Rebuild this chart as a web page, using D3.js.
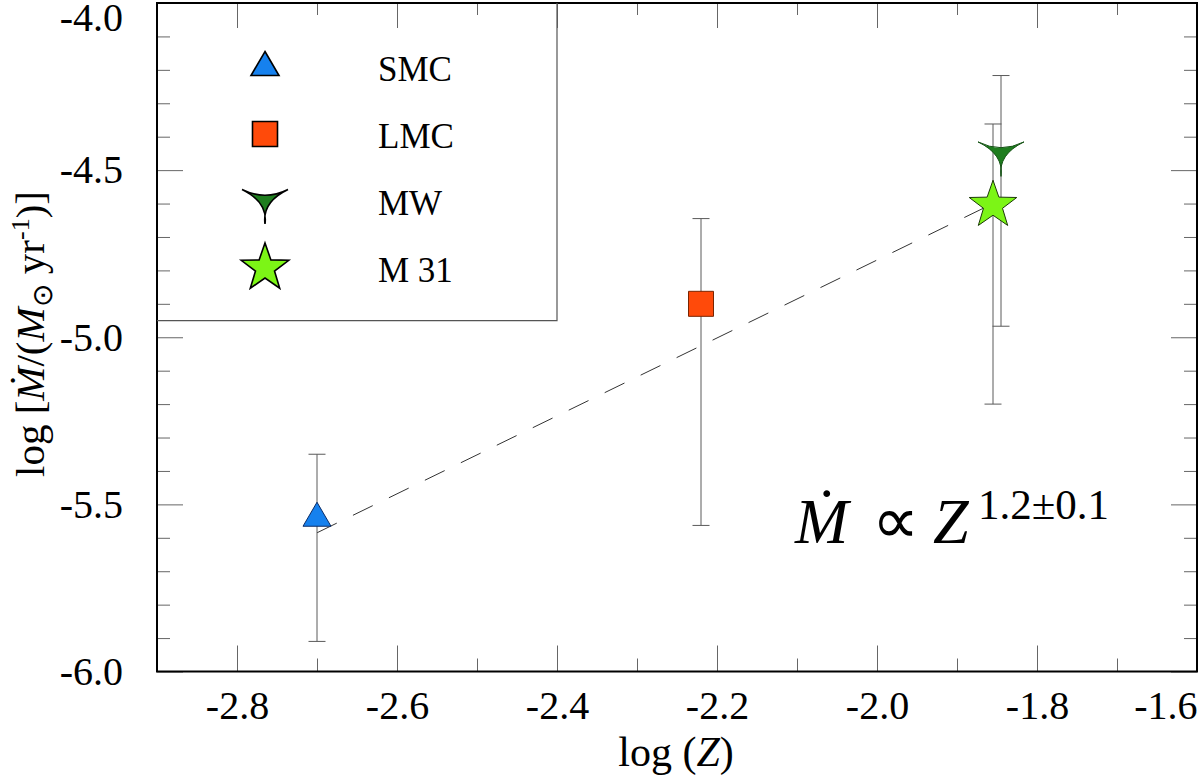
<!DOCTYPE html>
<html>
<head>
<meta charset="utf-8">
<script src="https://cdn.jsdelivr.net/npm/d3@7"></script>
<style>
  body { margin: 0; background: #fff; }
  text { font-family: "Liberation Serif", "Times New Roman", serif; fill: #000; }
</style>
</head>
<body>
<svg id="chart" width="1200" height="779"></svg>
<script>
var width = 1200,
    height = 779;

// galaxies and their mass-loss rates
var galaxies = ["SMC", "LMC", "MW", "M 31"];
var logZ = [-2.70, -2.22, -1.845, -1.855];
var logMdot = [-5.54, -4.90, -4.45, -4.605];
var errUp = [0.19, 0.255, 0.233, 0.243];
var errDown = [0.37, 0.663, 0.517, 0.595];
var fills = ["#1681ee", "#ff4a0a", "#1e7d1e", "#7cf516"];
var strokes = ["#0b2c66", "#7a2400", "#145214", "#1c3a08"];
var shapes = ["triangle", "square", "tri", "star"];

// dashed power-law fit
var fitX = [-2.70, -1.855];
var fitY = [-5.585, -4.60];

// axes
var xDomain = [-2.9, -1.6];
var yDomain = [-6.0, -4.0];
var xMajor = [-2.8, -2.6, -2.4, -2.2, -2.0, -1.8, -1.6];
var xMinor = [-2.9, -2.7, -2.5, -2.3, -2.1, -1.9, -1.7];
var yMajor = [-6.0, -5.5, -5.0, -4.5, -4.0];
var yMinor = [-5.9, -5.8, -5.7, -5.6, -5.4, -5.3, -5.2, -5.1, -4.9, -4.8, -4.7, -4.6, -4.4, -4.3, -4.2, -4.1];

var plotLeft = 157, plotRight = 1197, plotTop = 3, plotBottom = 671.5;
var serif = "Liberation Serif, Times New Roman, serif";

var x = d3.scaleLinear().domain(xDomain).range([plotLeft, plotRight]);
var y = d3.scaleLinear().domain(yDomain).range([plotBottom, plotTop]);

var svg = d3.select("#chart");

function symbolPath(kind) {
    if (kind == "triangle") {
        return "M0,-15.5L14,8.5L-14,8.5Z";
    }
    if (kind == "square") {
        return "M-12.5,-12.5H12.5V12.5H-12.5Z";
    }
    if (kind == "tri") {
        // arrowhead: two wide tips up, one long tip down, concave sides
        return "M-23,-11.5Q0,0 23,-11.5Q-3,1 0,23Q3,1 -23,-11.5Z";
    }
    // five pointed star
    var pts = [];
    for (var k = 0; k < 10; k++) {
        var ang = -Math.PI / 2 + k * Math.PI / 5;
        var rr = k % 2 ? 10 : 25;
        pts.push([rr * Math.cos(ang), rr * Math.sin(ang)]);
    }
    return "M" + pts.map(function (q) { return q.join(","); }).join("L") + "Z";
}

// ticks, all pointing inward
function addAxis(gen, tx, ty) {
    var g = svg.append("g").attr("transform", "translate(" + tx + "," + ty + ")").call(gen);
    g.attr("font-family", serif);
    g.select(".domain").remove();
    g.selectAll(".tick line").attr("stroke", "#666").attr("stroke-width", 1);
    return g;
}
var fmt = d3.format(".1f");
function labelFmt(d) { return fmt(d).replace("\u2212", "-"); }

var xLabels = addAxis(d3.axisBottom(x).tickValues(xMajor).tickSize(-26).tickPadding(17).tickFormat(labelFmt), 0, plotBottom)
    .selectAll("text").attr("font-size", 40).attr("dy", "0.75em");
// last label is pulled inside the frame
xLabels.filter(function (d) { return d == xDomain[1]; }).attr("text-anchor", "end");
addAxis(d3.axisBottom(x).tickValues(xMinor).tickSize(-13).tickFormat(""), 0, plotBottom);
addAxis(d3.axisTop(x).tickValues(xMajor).tickSize(-25).tickFormat(""), 0, plotTop);
addAxis(d3.axisTop(x).tickValues(xMinor).tickSize(-12).tickFormat(""), 0, plotTop);

var yLabels = addAxis(d3.axisLeft(y).tickValues(yMajor).tickSize(-26).tickPadding(34).tickFormat(labelFmt), plotLeft, 0)
    .selectAll("text").attr("font-size", 40);
// top label is pulled inside the picture
yLabels.filter(function (d) { return d == yDomain[1]; }).attr("y", 15);
addAxis(d3.axisLeft(y).tickValues(yMinor).tickSize(-13).tickFormat(""), plotLeft, 0);
addAxis(d3.axisRight(y).tickValues(yMajor).tickSize(-26).tickFormat(""), plotRight, 0);
addAxis(d3.axisRight(y).tickValues(yMinor).tickSize(-13).tickFormat(""), plotRight, 0);

// frame
svg.append("rect")
    .attr("x", plotLeft).attr("y", plotTop)
    .attr("width", plotRight - plotLeft).attr("height", plotBottom - plotTop)
    .attr("fill", "none").attr("stroke", "#000").attr("stroke-width", 2);

// legend box
var legendRight = x(-2.4), legendBottom = y(-4.95);
svg.append("path")
    .attr("d", "M" + plotLeft + "," + legendBottom + "H" + legendRight + "V" + plotTop)
    .attr("fill", "none").attr("stroke", "#555").attr("stroke-width", 1.2);

var legend = svg.append("g");
galaxies.forEach(function (name, i) {
    var cy = 67 + i * 67;
    legend.append("path")
        .attr("d", symbolPath(shapes[i]))
        .attr("transform", "translate(265," + cy + ")")
        .attr("fill", fills[i])
        .attr("stroke", "#000").attr("stroke-width", 1.6);
    legend.append("text")
        .attr("x", 378).attr("y", cy + 14)
        .attr("font-size", 35)
        .text(name);
});

// fit line
svg.append("path")
    .datum(d3.zip(fitX, fitY))
    .attr("d", d3.line().x(function (d) { return x(d[0]); }).y(function (d) { return y(d[1]); }))
    .attr("fill", "none").attr("stroke", "#333").attr("stroke-width", 1)
    .attr("stroke-dasharray", "22,18");

// error bars
var bars = svg.append("g").attr("stroke", "#5a5a5a").attr("stroke-width", 1);
galaxies.forEach(function (name, i) {
    var xi = x(logZ[i]), hi = y(logMdot[i] + errUp[i]), lo = y(logMdot[i] - errDown[i]);
    bars.append("line").attr("x1", xi).attr("x2", xi).attr("y1", hi).attr("y2", lo);
    bars.append("line").attr("x1", xi - 8.5).attr("x2", xi + 8.5).attr("y1", hi).attr("y2", hi);
    bars.append("line").attr("x1", xi - 8.5).attr("x2", xi + 8.5).attr("y1", lo).attr("y2", lo);
});

// markers
svg.append("g").selectAll("path")
    .data(galaxies)
    .join("path")
    .attr("d", function (d, i) { return symbolPath(shapes[i]); })
    .attr("transform", function (d, i) { return "translate(" + x(logZ[i]) + "," + y(logMdot[i]) + ")"; })
    .attr("fill", function (d, i) { return fills[i]; })
    .attr("stroke", function (d, i) { return strokes[i]; })
    .attr("stroke-width", 1);

// relation label
var rel = svg.append("text").attr("y", 543).attr("font-size", 64);
rel.append("tspan").attr("x", 795).attr("font-style", "italic").text("\u1E40");
rel.append("tspan").attr("x", 872).attr("font-size", 66).text("\u221D");
rel.append("tspan").attr("x", 933).attr("font-style", "italic").text("Z");
rel.append("tspan").attr("x", 978).attr("y", 519).attr("font-size", 43).text("1.2\u00B10.1");

// axis titles
var xt = svg.append("text").attr("x", 676).attr("y", 766).attr("text-anchor", "middle").attr("font-size", 42);
xt.append("tspan").text("log (");
xt.append("tspan").attr("font-style", "italic").text("Z");
xt.append("tspan").text(")");

var yt = svg.append("text")
    .attr("transform", "translate(44,334) rotate(-90)")
    .attr("text-anchor", "middle").attr("font-size", 41);
yt.append("tspan").text("log [");
yt.append("tspan").attr("font-style", "italic").text("\u1E40");
yt.append("tspan").text("/(");
yt.append("tspan").attr("font-style", "italic").text("M");
yt.append("tspan").attr("font-size", 28).attr("dy", 8).text("\u2299");
yt.append("tspan").attr("dy", -8).text(" yr");
yt.append("tspan").attr("font-size", 26).attr("dy", -15).text("-1");
yt.append("tspan").attr("dy", 15).text(")]");
</script>
</body>
</html>
